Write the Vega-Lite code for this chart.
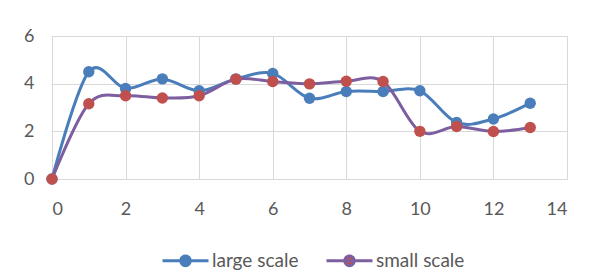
{
  "$schema": "https://vega.github.io/schema/vega-lite/v6.json",
  "width": 515,
  "height": 143,
  "autosize": {"type": "none"},
  "padding": {"left": 52, "top": 36, "right": 31, "bottom": 98},
  "background": "white",
  "config": {
    "view": {"stroke": "#D9D9D9", "strokeWidth": 1},
    "axis": {
      "grid": true,
      "gridColor": "#D9D9D9",
      "gridWidth": 1,
      "domain": false,
      "ticks": false,
      "labelFont": "Lato",
      "labelFontSize": 18,
      "labelColor": "#595959",
      "title": null
    },
    "legend": {
      "orient": "none",
      "legendX": 109,
      "legendY": 200,
      "direction": "horizontal",
      "columnPadding": 21,
      "labelOffset": 2,
      "labelFont": "Lato",
      "labelFontSize": 19,
      "labelColor": "#595959"
    }
  },
  "data": {
    "values": [
      {"x": 0, "y": 0, "series": "large scale"},
      {"x": 1, "y": 4.5, "series": "large scale"},
      {"x": 2, "y": 3.8, "series": "large scale"},
      {"x": 3, "y": 4.2, "series": "large scale"},
      {"x": 4, "y": 3.7, "series": "large scale"},
      {"x": 5, "y": 4.2, "series": "large scale"},
      {"x": 6, "y": 4.43, "series": "large scale"},
      {"x": 7, "y": 3.39, "series": "large scale"},
      {"x": 8, "y": 3.67, "series": "large scale"},
      {"x": 9, "y": 3.67, "series": "large scale"},
      {"x": 10, "y": 3.7, "series": "large scale"},
      {"x": 11, "y": 2.37, "series": "large scale"},
      {"x": 12, "y": 2.52, "series": "large scale"},
      {"x": 13, "y": 3.18, "series": "large scale"},
      {"x": 0, "y": 0, "series": "small scale"},
      {"x": 1, "y": 3.16, "series": "small scale"},
      {"x": 2, "y": 3.49, "series": "small scale"},
      {"x": 3, "y": 3.4, "series": "small scale"},
      {"x": 4, "y": 3.49, "series": "small scale"},
      {"x": 5, "y": 4.19, "series": "small scale"},
      {"x": 6, "y": 4.09, "series": "small scale"},
      {"x": 7, "y": 3.99, "series": "small scale"},
      {"x": 8, "y": 4.1, "series": "small scale"},
      {"x": 9, "y": 4.09, "series": "small scale"},
      {"x": 10, "y": 2.0, "series": "small scale"},
      {"x": 11, "y": 2.2, "series": "small scale"},
      {"x": 12, "y": 1.99, "series": "small scale"},
      {"x": 13, "y": 2.16, "series": "small scale"}
    ]
  },
  "encoding": {
    "x": {
      "field": "x",
      "type": "quantitative",
      "scale": {"domain": [0, 14], "nice": false},
      "axis": {"values": [0, 2, 4, 6, 8, 10, 12, 14], "labelPadding": 21}
    },
    "y": {
      "field": "y",
      "type": "quantitative",
      "scale": {"domain": [0, 6], "nice": false},
      "axis": {"values": [0, 2, 4, 6], "labelPadding": 18}
    }
  },
  "layer": [
    {
      "mark": {"type": "line", "interpolate": "cardinal", "strokeWidth": 3},
      "encoding": {
        "stroke": {
          "field": "series",
          "type": "nominal",
          "scale": {"domain": ["large scale", "small scale"], "range": ["#4A7EBB", "#7D5FA0"]},
          "legend": {
            "title": null,
            "symbolType": "M-1,0H1M0.21,0A0.21,0.21 0 1,1 -0.21,0A0.21,0.21 0 1,1 0.21,0Z",
            "symbolSize": 2116,
            "symbolStrokeWidth": 3
          }
        },
        "order": {"field": "x", "type": "quantitative"}
      }
    },
    {
      "mark": {"type": "point", "filled": true, "opacity": 1, "size": 130},
      "encoding": {
        "fill": {
          "field": "series",
          "type": "nominal",
          "scale": {"domain": ["large scale", "small scale"], "range": ["#4A7EBB", "#C0504D"]},
          "legend": {
            "title": null,
            "symbolType": "M-1,0H1M0.21,0A0.21,0.21 0 1,1 -0.21,0A0.21,0.21 0 1,1 0.21,0Z",
            "symbolSize": 2116,
            "symbolStrokeWidth": 3
          }
        }
      }
    }
  ]
}
